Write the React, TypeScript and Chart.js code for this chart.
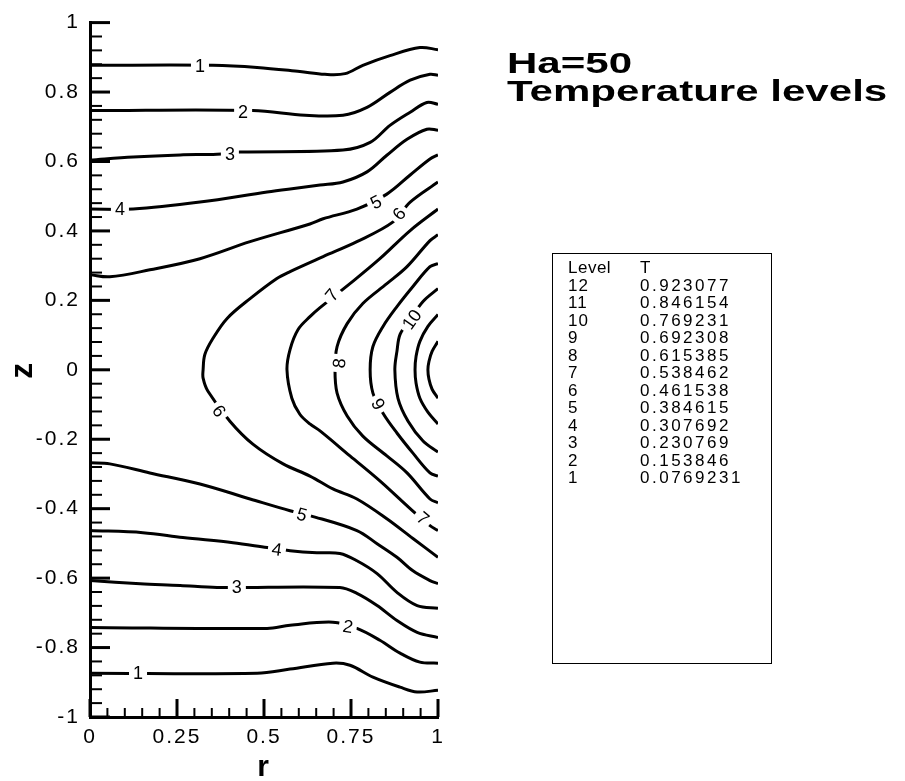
import React, { useEffect, useRef } from 'react';
import { Chart, registerables } from 'chart.js';

Chart.register(...registerables);

const FONT = '"Liberation Sans", Arial, Helvetica, sans-serif';

// ---- axes ----
const rTicks = [0, 0.25, 0.5, 0.75, 1];
const rTickLabels = ['0', '0.25', '0.5', '0.75', '1'];
const zTicks = [-1, -0.8, -0.6, -0.4, -0.2, 0, 0.2, 0.4, 0.6, 0.8, 1];
const zTickLabels = ['-1', '-0.8', '-0.6', '-0.4', '-0.2', '0', '0.2', '0.4', '0.6', '0.8', '1'];
const rMinorStep = 0.05;
const zMinorStep = 0.04;

// ---- contour lines, [r, z] pairs ----
const contour1Top = [[0, 0.877], [0.353, 0.877], [0.48, 0.871], [0.603, 0.859], [0.675, 0.851], [0.733, 0.853], [0.784, 0.877], [0.862, 0.905], [0.948, 0.928], [1, 0.922]];
const contour1Bottom = [[0, -0.874], [0.48, -0.874], [0.575, -0.862], [0.698, -0.845], [0.747, -0.851], [0.813, -0.885], [0.891, -0.914], [0.94, -0.928], [1, -0.923]];
const contour2Top = [[0, 0.747], [0.468, 0.747], [0.618, 0.733], [0.727, 0.733], [0.796, 0.756], [0.862, 0.799], [0.92, 0.834], [0.977, 0.851], [1, 0.848]];
const contour2Bottom = [[0, -0.742], [0.509, -0.745], [0.575, -0.736], [0.698, -0.727], [0.767, -0.745], [0.833, -0.779], [0.891, -0.816], [0.948, -0.842], [1, -0.845]];
const contour3Top = [[0, 0.604], [0.124, 0.613], [0.259, 0.619], [0.365, 0.621], [0.431, 0.627], [0.727, 0.633], [0.805, 0.655], [0.862, 0.704], [0.92, 0.742], [0.968, 0.77], [1, 0.765]];
const contour3Bottom = [[0, -0.607], [0.144, -0.616], [0.259, -0.621], [0.365, -0.627], [0.718, -0.627], [0.767, -0.644], [0.825, -0.679], [0.882, -0.722], [0.94, -0.756], [1, -0.771]];
const contour4Top = [[0, 0.463], [0.124, 0.463], [0.316, 0.483], [0.509, 0.512], [0.575, 0.521], [0.661, 0.532], [0.727, 0.541], [0.796, 0.57], [0.853, 0.618], [0.911, 0.664], [0.968, 0.693], [1, 0.69]];
const contour4Bottom = [[0, -0.463], [0.152, -0.469], [0.267, -0.483], [0.411, -0.498], [0.509, -0.512], [0.575, -0.521], [0.652, -0.527], [0.718, -0.529], [0.767, -0.55], [0.825, -0.587], [0.882, -0.641], [0.94, -0.679], [1, -0.687]];
const contour5Top = [[0, 0.274], [0.057, 0.268], [0.172, 0.288], [0.316, 0.32], [0.46, 0.369], [0.632, 0.42], [0.67, 0.435], [0.767, 0.463], [0.853, 0.506], [0.92, 0.561], [0.977, 0.607], [1, 0.619]];
const contour5Bottom = [[0, -0.268], [0.057, -0.271], [0.172, -0.297], [0.316, -0.329], [0.46, -0.372], [0.575, -0.406], [0.632, -0.42], [0.767, -0.463], [0.825, -0.501], [0.882, -0.54], [0.928, -0.579], [0.977, -0.607], [1, -0.616]];
const contour6 = [[1, 0.541], [0.92, 0.483], [0.871, 0.426], [0.767, 0.369], [0.67, 0.326], [0.575, 0.283], [0.537, 0.263], [0.46, 0.205], [0.394, 0.148], [0.353, 0.09], [0.33, 0.044], [0.325, 0], [0.325, -0.024], [0.339, -0.062], [0.402, -0.148], [0.468, -0.214], [0.555, -0.271], [0.632, -0.306], [0.698, -0.343], [0.767, -0.372], [0.853, -0.429], [0.928, -0.486], [1, -0.54]];
const contour7 = [[1, 0.463], [0.92, 0.401], [0.833, 0.32], [0.747, 0.248], [0.661, 0.179], [0.632, 0.153], [0.598, 0.116], [0.575, 0.059], [0.566, 0], [0.58, -0.082], [0.603, -0.128], [0.632, -0.156], [0.661, -0.176], [0.747, -0.248], [0.833, -0.32], [0.92, -0.4], [0.977, -0.449], [1, -0.463]];
const contour8 = [[1, 0.389], [0.977, 0.372], [0.911, 0.297], [0.853, 0.248], [0.784, 0.191], [0.739, 0.133], [0.71, 0.067], [0.704, 0], [0.71, -0.067], [0.739, -0.133], [0.784, -0.191], [0.853, -0.248], [0.911, -0.297], [0.977, -0.372], [1, -0.383]];
const contour9 = [[1, 0.306], [0.977, 0.297], [0.928, 0.24], [0.882, 0.182], [0.842, 0.125], [0.813, 0.067], [0.805, 0], [0.813, -0.067], [0.842, -0.125], [0.882, -0.182], [0.928, -0.24], [0.977, -0.297], [1, -0.306]];
const contour10 = [[1, 0.234], [0.957, 0.197], [0.92, 0.145], [0.891, 0.102], [0.882, 0.053], [0.876, 0], [0.885, -0.082], [0.914, -0.148], [0.957, -0.205], [1, -0.237]];
const contour11 = [[1, 0.159], [0.971, 0.125], [0.948, 0.082], [0.937, 0.039], [0.934, 0], [0.937, -0.039], [0.948, -0.082], [0.971, -0.122], [1, -0.156]];
const contour12 = [[1, 0.082], [0.983, 0.053], [0.974, 0.024], [0.971, 0], [0.974, -0.027], [0.983, -0.056], [1, -0.082]];

const contours = [
  contour1Top, contour1Bottom, contour2Top, contour2Bottom, contour3Top, contour3Bottom,
  contour4Top, contour4Bottom, contour5Top, contour5Bottom, contour6, contour7, contour8,
  contour9, contour10, contour11, contour12,
];

// ---- contour labels ----
const labelTexts = ['1', '2', '3', '4', '5', '6', '7', '10', '8', '9', '6', '5', '4', '3', '2', '1', '7'];
const labelR = [0.316, 0.44, 0.402, 0.086, 0.822, 0.888, 0.695, 0.925, 0.716, 0.828, 0.371, 0.609, 0.537, 0.422, 0.741, 0.138, 0.957];
const labelZ = [0.874, 0.742, 0.621, 0.463, 0.483, 0.449, 0.215, 0.145, 0.019, -0.099, -0.119, -0.417, -0.518, -0.627, -0.739, -0.874, -0.428];
const labelRotation = [0, 0, 0, 0, -27, -50, -50, -55, -85, 60, 54, 15, 8, 0, 10, 0, 40];

// ---- legend table ----
const levelNumbers = ['12', '11', '10', '9', '8', '7', '6', '5', '4', '3', '2', '1'];
const levelValues = ['0.923077', '0.846154', '0.769231', '0.692308', '0.615385', '0.538462', '0.461538', '0.384615', '0.307692', '0.230769', '0.153846', '0.0769231'];

const decorPlugin = {
  id: 'decor',
  beforeDraw(chart: any) {
    chart.ctx.letterSpacing = '2px';
  },
  beforeDatasetsDraw(chart: any) {
    chart.ctx.letterSpacing = '0px';
  },
  afterDatasetsDraw(chart: any) {
    const { ctx, chartArea, scales } = chart;
    const xs = scales.x;
    const ys = scales.y;
    ctx.save();
    ctx.letterSpacing = '0px';
    ctx.strokeStyle = '#000';
    ctx.lineCap = 'butt';
    const seg = (x1: number, y1: number, x2: number, y2: number, w: number) => {
      ctx.lineWidth = w;
      ctx.beginPath();
      ctx.moveTo(x1, y1);
      ctx.lineTo(x2, y2);
      ctx.stroke();
    };
    // y ticks (inward, from left axis)
    const nz = Math.round(2 / zMinorStep);
    for (let k = 0; k <= nz; k++) {
      const v = -1 + k * zMinorStep;
      const py = ys.getPixelForValue(v);
      const major = k % 5 === 0;
      seg(chartArea.left, py, chartArea.left + (major ? 20 : 12), py, major ? 3 : 2);
    }
    // x ticks (inward, from bottom axis)
    const nr = Math.round(1 / rMinorStep);
    for (let k = 0; k <= nr; k++) {
      const v = k * rMinorStep;
      const px = xs.getPixelForValue(v);
      const major = k % 5 === 0;
      seg(px, chartArea.bottom, px, chartArea.bottom - (major ? 18 : 9), major ? 3 : 2);
    }
    // contour labels
    ctx.font = `18px ${FONT}`;
    ctx.textAlign = 'center';
    ctx.textBaseline = 'middle';
    for (let i = 0; i < labelTexts.length; i++) {
      const px = xs.getPixelForValue(labelR[i]);
      const py = ys.getPixelForValue(labelZ[i]);
      ctx.save();
      ctx.translate(px, py);
      ctx.rotate((labelRotation[i] * Math.PI) / 180);
      const w = ctx.measureText(labelTexts[i]).width;
      ctx.fillStyle = '#fff';
      ctx.fillRect(-w / 2 - 4, -8, w + 8, 16);
      ctx.fillStyle = '#000';
      ctx.fillText(labelTexts[i], 0, 1);
      ctx.restore();
    }
    ctx.restore();
  },
};

export default function App() {
  const ref = useRef<HTMLCanvasElement>(null);

  useEffect(() => {
    const canvas = ref.current;
    if (!canvas) return;
    const datasets = contours.map((c) => ({
      data: c.map(([r, z]) => ({ x: r, y: z })),
      showLine: true,
      borderColor: '#000',
      borderWidth: 3,
      pointRadius: 0,
      pointHoverRadius: 0,
      tension: 0.35,
      fill: false,
    }));
    const chart = new Chart(canvas, {
      type: 'scatter',
      data: { datasets },
      options: {
        animation: false,
        responsive: false,
        maintainAspectRatio: false,
        events: [],
        layout: { padding: { left: 0, top: 20, right: 467, bottom: 0 } },
        plugins: { legend: { display: false }, tooltip: { enabled: false }, title: { display: false } },
        scales: {
          x: {
            type: 'linear',
            min: 0,
            max: 1,
            afterFit: (s: any) => { s.height = 64; },
            afterBuildTicks: (s: any) => { s.ticks = rTicks.map((v) => ({ value: v })); },
            ticks: {
              callback: (v: any) => rTickLabels[rTicks.indexOf(v)],
              font: { family: FONT, size: 21 },
              color: '#000',
              padding: 8,
              maxRotation: 0,
              autoSkip: false,
            },
            grid: { display: false, drawTicks: false },
            border: { display: true, width: 3, color: '#000' },
            title: {
              display: true,
              text: 'r',
              color: '#000',
              font: { family: FONT, size: 30, weight: 'bold', lineHeight: 0.8 },
              padding: { top: 0, bottom: 1 },
            },
          },
          y: {
            type: 'linear',
            min: -1,
            max: 1,
            afterFit: (s: any) => { s.width = 90; },
            afterBuildTicks: (s: any) => { s.ticks = zTicks.map((v) => ({ value: v })); },
            ticks: {
              callback: (v: any) => zTickLabels[zTicks.indexOf(v)],
              font: { family: FONT, size: 21 },
              color: '#000',
              padding: 10,
              autoSkip: false,
            },
            grid: { display: false, drawTicks: false },
            border: { display: true, width: 3, color: '#000' },
            title: {
              display: true,
              text: 'z',
              color: '#000',
              font: { family: FONT, size: 32, weight: 'bold', lineHeight: 1.2 },
              padding: { top: 4, bottom: 0 },
            },
          },
        },
      } as any,
      plugins: [decorPlugin],
    });
    return () => chart.destroy();
  }, []);

  const rowTop = 259;
  const rowStep = 17.5;

  return (
    <div style={{ position: 'absolute', left: 0, top: 0, width: 905, height: 781, background: '#fff', overflow: 'hidden' }}>
      <canvas ref={ref} width={905} height={781} style={{ position: 'absolute', left: 0, top: 0, width: 905, height: 781 }} />
      <div
        style={{
          position: 'absolute', left: 507, top: 49, font: `bold 29px ${FONT}`, lineHeight: '28px',
          transform: 'scaleX(1.45)', transformOrigin: 'left top', whiteSpace: 'nowrap', color: '#000',
        }}
      >
        <div>Ha=50</div>
        <div>Temperature levels</div>
      </div>
      <div style={{ position: 'absolute', left: 552, top: 253, width: 218, height: 409, border: '1px solid #000' }} />
      <div style={{ position: 'absolute', left: 0, top: 0, font: `17px ${FONT}`, color: '#000', whiteSpace: 'nowrap' }}>
        <div style={{ position: 'absolute', left: 568, top: rowTop, lineHeight: '18px', letterSpacing: '0.5px' }}>Level</div>
        <div style={{ position: 'absolute', left: 640, top: rowTop, lineHeight: '18px' }}>T</div>
        {levelNumbers.map((n, i) => (
          <React.Fragment key={n}>
            <div style={{ position: 'absolute', left: 568, top: rowTop + (i + 1) * rowStep, lineHeight: '18px', letterSpacing: '1px' }}>{n}</div>
            <div style={{ position: 'absolute', left: 640, top: rowTop + (i + 1) * rowStep, lineHeight: '18px', letterSpacing: '2.5px' }}>{levelValues[i]}</div>
          </React.Fragment>
        ))}
      </div>
    </div>
  );
}
